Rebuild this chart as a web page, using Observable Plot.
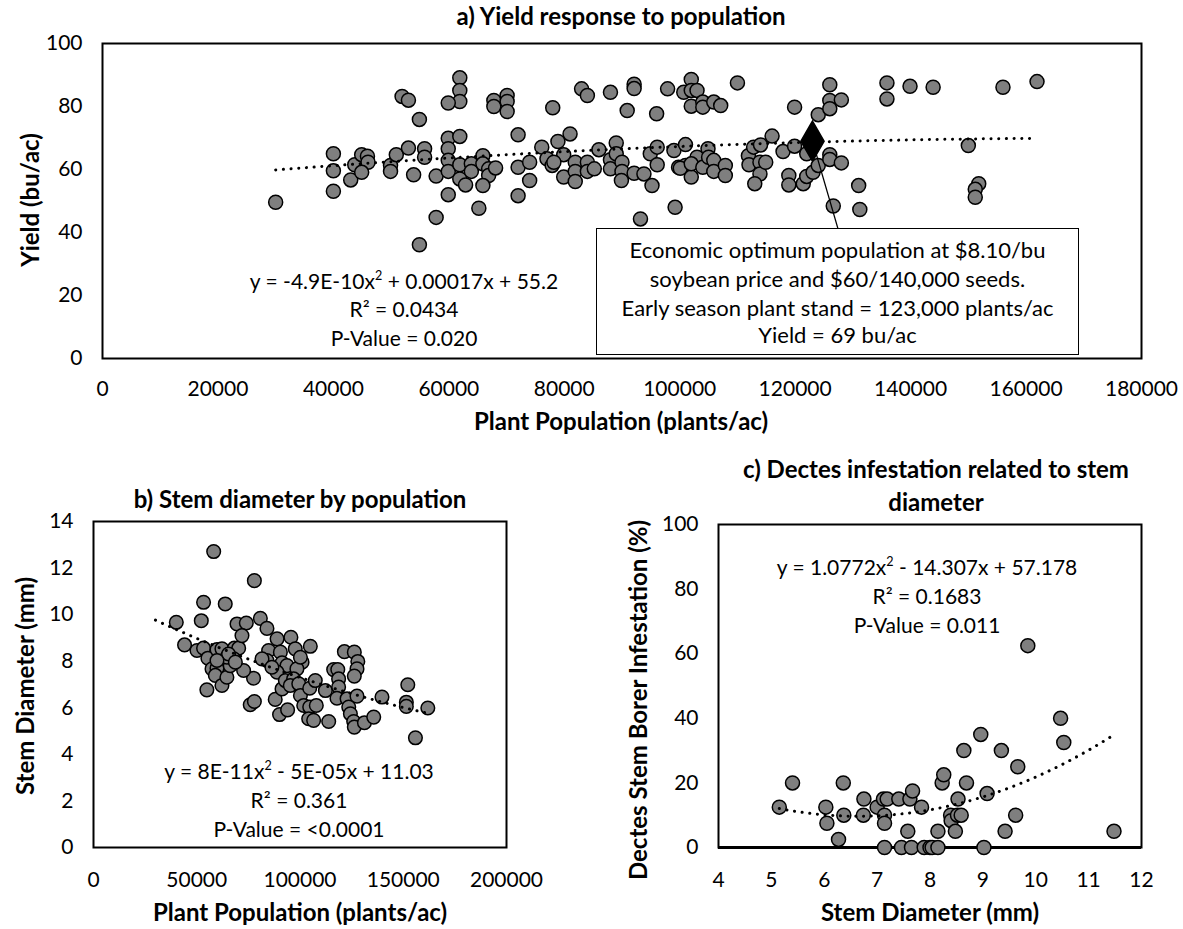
<!DOCTYPE html>
<html><head><meta charset="utf-8">
<script src="https://cdn.jsdelivr.net/npm/d3@7"></script>
<script src="https://cdn.jsdelivr.net/npm/@observablehq/plot@0.6"></script>
<style>
body{margin:0;background:#fff;font-family:Lato,"Open Sans",sans-serif;color:#000;}
#wrap{position:relative;width:1183px;height:929px;overflow:hidden;background:#fff;}
.ch{position:absolute;}
.t{position:absolute;transform:translate(-50%,-50%);white-space:nowrap;font-size:21px;line-height:1;}
.k{font-size:22px;}
.b{font-weight:bold;font-size:24px;}
.r{transform:translate(-50%,-50%) rotate(-90deg);}
.box{position:absolute;border:1.3px solid #000;background:#fff;box-sizing:border-box;}
sup{font-size:0.6em;vertical-align:0.7em;line-height:0;}
</style></head><body><div id="wrap"></div>
<script>
// ---------- Chart a: Yield vs plant population ----------
const popA = [30000,40000,40000,40000,43000,43700,44900,45900,46000,44900,49900,49900,50900,51900,53000,54900,53000,55800,55800,53900,57800,57800,54900,
61900,61900,61900,59900,59900,61900,59900,59900,59900,59900,61900,61900,62900,63900,63900,65900,65900,66900,66900,65900,68100,65200,
67800,67800,70100,70100,70100,72000,72000,72000,74000,74000,76100,77000,77900,78000,78900,81000,79900,79900,78200,
81900,81900,81900,83000,84000,84000,84000,85200,86000,88000,88000,88000,89000,89000,90000,90000,89900,
90900,92100,92100,92100,93200,93800,95200,94900,96100,96100,96000,97900,99000,99200,99800,
101000,100700,102000,102000,103000,102000,104000,104000,105900,107100,110000,
101000,100100,102000,103000,102000,104000,104900,105000,105900,105900,107900,107900,
111900,112800,114000,112000,113900,113900,114900,113000,116000,
117900,118900,118900,119900,119900,121400,122000,122000,123100,124000,124000,
126000,126000,126000,128000,126000,126000,128000,126600,
131000,131200,135900,135900,139900,143900,156000,161900,150000,151800,151200,151200];
const yieldA = [49.6,65.0,59.6,53.1,56.7,61.5,64.7,64.2,62.3,59.1,61.3,59.4,64.7,83.2,82.0,75.9,66.8,66.6,63.9,58.3,57.9,44.8,36.1,
89.1,85.1,81.6,81.1,69.9,70.5,66.6,62.9,59.4,52.0,61.5,57.0,55.1,61.8,59.4,64.4,61.8,60.2,58.1,54.9,60.5,47.7,
81.9,80.0,83.5,81.6,78.4,71.0,60.7,51.7,62.3,56.5,67.1,63.4,61.3,79.6,68.9,71.3,64.7,57.6,62.3,
62.3,59.4,56.2,85.6,83.5,62.3,59.4,60.2,66.3,84.5,63.1,60.2,68.4,65.0,62.3,59.4,56.5,
78.7,87.1,85.7,58.8,44.3,58.6,54.9,65.0,67.1,61.5,77.7,85.6,66.0,48.0,60.7,
67.9,84.5,88.6,85.1,85.1,80.1,81.4,79.8,81.4,80.3,87.5,
61.3,60.4,57.6,63.9,61.8,60.7,66.6,63.9,62.9,59.4,61.3,58.1,
64.4,67.1,67.8,61.5,62.3,58.6,62.3,55.5,70.6,
65.7,58.1,55.1,67.4,79.8,55.5,57.8,65.0,59.1,61.3,77.4,
86.9,81.9,79.3,82.1,64.7,63.2,62.1,48.4,
54.9,47.3,87.5,82.4,86.4,86.1,86.1,87.9,67.6,55.5,53.7,51.2];
const optimumA = {pop:[123000], yield:[69]};
const coefA = [-4.9e-10, 0.00017, 55.2];          // printed trendline
const xTicksA = [0,20000,40000,60000,80000,100000,120000,140000,160000,180000];
const yTicksA = [0,20,40,60,80,100];

// ---------- Chart b: Stem diameter vs population ----------
const popB = [58200,77900,53300,63800,52200,40100,44100,50100,53300,55400,54900,59800,62200,68200,70300,69500,74000,71900,80800,84000,88900,95600,105000,84800,84000,90500,97700,91300,93700,101000,98500,88900,77500,57400,59800,59000,62200,64600,66200,67900,72700,64600,75900,77900,88000,90100,94000,91300,92900,96900,95300,99400,100200,101800,104700,107900,104200,106600,104700,107400,112300,113900,116300,118300,118700,118700,117900,121500,126300,128000,127600,126300,122800,123600,124400,126000,126300,127600,131200,135700,139700,152200,151500,151500,155900,161900,81600,86400,100200,65400,68700,59800];
const stemB = [12.71,11.46,10.53,10.46,9.74,9.67,8.70,8.46,8.56,8.13,6.77,8.50,8.53,8.56,8.56,9.60,9.64,9.10,9.84,9.41,8.96,9.03,8.64,8.46,8.03,8.39,8.53,7.93,7.81,7.96,7.67,7.53,7.27,7.67,7.70,7.39,6.96,7.31,7.81,8.10,7.60,8.17,6.13,6.27,6.36,5.71,5.91,6.81,7.17,7.24,6.96,7.03,6.53,6.10,6.03,6.10,5.53,5.46,6.84,7.17,6.74,5.41,7.64,7.64,7.24,6.89,6.41,8.41,8.39,7.99,7.67,7.36,6.39,6.03,5.74,5.41,5.17,6.50,5.36,5.60,6.46,6.99,6.24,6.06,4.71,5.99,8.10,7.74,8.17,8.31,7.96,8.03];
const xTicksB = [0,50000,100000,150000,200000];
const yTicksB = [0,2,4,6,8,10,12,14];

// ---------- Chart c: Dectes infestation vs stem diameter ----------
const stemC = [5.15,5.40,6.03,6.05,6.27,6.36,6.37,6.75,6.74,7.00,7.12,7.19,7.14,7.14,7.14,7.41,7.46,7.58,7.62,7.67,7.65,7.84,7.89,8.00,8.04,8.15,8.15,8.23,8.26,8.39,8.40,8.48,8.52,8.59,8.53,8.64,8.69,8.96,9.02,9.08,9.35,9.42,9.62,9.66,9.85,10.47,10.53,11.48];
const infC  = [12.5,20,12.5,7.5,2.5,20,10,15,10,12.5,15,15,10,7.5,0,15,0,5,15,17.5,0,12.5,0,0,0,0,5,20,22.5,10,8.3,5,10,10,15,30,20,35,0,16.7,30,5,10,25,62.5,40,32.5,5];
const coefC = [1.0772, -14.307, 57.178];           // printed trendline
const xTicksC = [4,5,6,7,8,9,10,11,12];
const yTicksC = [0,20,40,60,80,100];

// ---------- helpers ----------
const rows = (xs, ys) => xs.map((x,i)=>({x, y:ys[i]}));
function curve(coef, x0, x1, n=80){
  return d3.range(n+1).map(i=>{const x=x0+(x1-x0)*i/n; return {x, y:coef[0]*x*x+coef[1]*x+coef[2]};});
}
function quadFit(xs, ys, s){ // least squares y = a x^2 + b x + c (x scaled by s)
  const S=[0,0,0,0,0], T=[0,0,0];
  xs.forEach((x0,i)=>{const x=x0/s; let p=1; for(let k=0;k<5;k++){S[k]+=p; if(k<3) T[k]+=p*ys[i]; p*=x;}});
  const M=[[S[4],S[3],S[2]],[S[3],S[2],S[1]],[S[2],S[1],S[0]]], v=[T[2],T[1],T[0]];
  const det=m=>m[0][0]*(m[1][1]*m[2][2]-m[1][2]*m[2][1])-m[0][1]*(m[1][0]*m[2][2]-m[1][2]*m[2][0])+m[0][2]*(m[1][0]*m[2][1]-m[1][1]*m[2][0]);
  const D=det(M);
  const sol=[0,1,2].map(j=>det(M.map((r,i)=>r.map((c,k)=>k===j?v[i]:c)))/D);
  return [sol[0]/(s*s), sol[1]/s, sol[2]];
}
const dotStyle = {fill:"#7f7f7f", stroke:"#000", strokeWidth:1.5};
const trendStyle = {stroke:"#000", strokeWidth:3, strokeDasharray:"0.1,7.6", strokeLinecap:"round"};
const fmt = d => String(d);
const style = {fontFamily:"Lato, 'Open Sans', sans-serif", color:"#000", background:"transparent", overflow:"visible"};
function axes(xt, yt, padX){
  return [
    Plot.axisX({ticks:xt, tickSize:0, tickPadding:padX, fontSize:21, tickFormat:fmt, label:null}),
    Plot.axisY({ticks:yt, tickSize:0, tickPadding:20, fontSize:21, tickFormat:fmt, label:null})
  ];
}

const wrap = document.getElementById("wrap");
function place(el, left, top){ const d=document.createElement("div"); d.className="ch"; d.style.left=left+"px"; d.style.top=top+"px"; d.appendChild(el); wrap.appendChild(d); }
function txt(html, x, y, cls=""){ const d=document.createElement("div"); d.className="t "+cls; d.style.left=x+"px"; d.style.top=y+"px"; d.innerHTML=html; wrap.appendChild(d); }

// Chart a
const dataA = rows(popA, yieldA);
const optA = rows(optimumA.pop, optimumA.yield);
const leader = {x1:optimumA.pop[0], y1:optimumA.yield[0], x2:127400, y2:41.3};
const chartA = Plot.plot({
  width:1183, height:440, marginTop:43, marginRight:42, marginBottom:82, marginLeft:102,
  style,
  x:{domain:[0,180000]}, y:{domain:[0,100]},
  marks:[
    ...axes(xTicksA, yTicksA, 23),
    Plot.dot(dataA, {x:"x", y:"y", r:7, ...dotStyle}),
    Plot.line(curve(coefA, d3.min(popA), d3.max(popA)), {x:"x", y:"y", ...trendStyle}),
    Plot.link([leader], {x1:"x1", y1:"y1", x2:"x2", y2:"y2", stroke:"#000", strokeWidth:1.3}),
    Plot.dot(optA, {x:"x", y:"y", symbol:"diamond", r:12.2, fill:"#000", stroke:"#000"}),
    Plot.frame({stroke:"#000", strokeWidth:2})
  ]
});
place(chartA, 0, 0);

// Chart b
const dataB = rows(popB, stemB);
const coefB = quadFit(popB, stemB, 1000);
const chartB = Plot.plot({
  width:560, height:449, marginTop:41, marginRight:54, marginBottom:82, marginLeft:93,
  style,
  x:{domain:[0,200000]}, y:{domain:[0,14]},
  marks:[
    ...axes(xTicksB, yTicksB, 25),
    Plot.dot(dataB, {x:"x", y:"y", r:6.8, ...dotStyle}),
    Plot.line(curve(coefB, 30000, d3.max(popB)), {x:"x", y:"y", ...trendStyle}),
    Plot.frame({stroke:"#000", strokeWidth:2})
  ]
});
place(chartB, 0, 480);

// Chart c
const dataC = rows(stemC, infC);
const chartC = Plot.plot({
  width:623, height:449, marginTop:44, marginRight:42, marginBottom:82, marginLeft:158,
  style,
  x:{domain:[4,12]}, y:{domain:[0,100]},
  marks:[
    ...axes(xTicksC, yTicksC, 25),
    Plot.frame({stroke:"#000", strokeWidth:2}),
    Plot.ruleY([0], {stroke:"#000", strokeWidth:3}),
    Plot.dot(dataC, {x:"x", y:"y", r:7, ...dotStyle}),
    Plot.line(curve(coefC, d3.min(stemC), d3.max(stemC)), {x:"x", y:"y", ...trendStyle})
  ]
});
place(chartC, 560, 480);

// ---------- texts ----------
txt("a) Yield response to population", 621, 16, "b");
txt("Plant Population (plants/ac)", 621, 421, "b");
txt("Yield (bu/ac)", 30, 200, "b r");
txt("y = -4.9E-10x<sup>2</sup> + 0.00017x + 55.2", 404, 280);
txt("R² = 0.0434", 404, 308);
txt("P-Value = 0.020", 404, 337);
const box = document.createElement("div"); box.className="box";
Object.assign(box.style,{left:"596px", top:"228px", width:"483px", height:"127px"}); wrap.appendChild(box);
txt("Economic optimum population at $8.10/bu", 837.5, 250, "k");
txt("soybean price and $60/140,000 seeds.", 837.5, 279, "k");
txt("Early season plant stand = 123,000 plants/ac", 837.5, 307.5, "k");
txt("Yield = 69 bu/ac", 837.5, 335, "k");

txt("b) Stem diameter by population", 300, 499, "b");
txt("Plant Population (plants/ac)", 300, 912, "b");
txt("Stem Diameter (mm)", 25, 686, "b r");
txt("y = 8E-11x<sup>2</sup> - 5E-05x + 11.03", 299, 770);
txt("R² = 0.361", 299, 799);
txt("P-Value = &lt;0.0001", 299, 828);

txt("c) Dectes infestation related to stem", 936, 469, "b");
txt("diameter", 936, 502, "b");
txt("Stem Diameter (mm)", 930, 912, "b");
txt("Dectes Stem Borer Infestation (%)", 638, 700, "b r");
txt("y = 1.0772x<sup>2</sup> - 14.307x + 57.178", 927, 566);
txt("R² = 0.1683", 927, 595);
txt("P-Value = 0.011", 927, 624);
</script></body></html>
